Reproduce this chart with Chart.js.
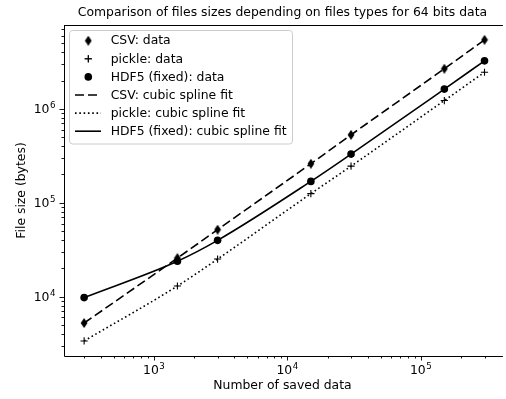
<!DOCTYPE html>
<html>
<head>
<meta charset="utf-8">
<script src="https://cdn.jsdelivr.net/npm/chart.js@4"></script>
<style>
  html, body { margin: 0; padding: 0; background: #fff; }
  canvas { display: block; }
</style>
</head>
<body>
<canvas id="myChart" width="506" height="399"></canvas>
<script>
// number of saved values (x) and file sizes in bytes (y)
const sizes = [300, 1500, 3000, 15000, 30000, 150000, 300000];
const csvBytes = [5230, 25700, 51600, 260000, 528000, 2670000, 5420000];
const pickleBytes = [3370, 12970, 25100, 124800, 245000, 1224000, 2450000];
const hdf5Bytes = [9760, 23800, 39700, 168600, 329000, 1620000, 3240000];

const xMajorTicks = [1e3, 1e4, 1e5];
const yMajorTicks = [1e4, 1e5, 1e6];

const titleText = "Comparison of files sizes depending on files types for 64 bits data";
const xLabel = "Number of saved data";
const yLabel = "File size (bytes)";
const legendLabels = [
  "CSV: data",
  "pickle: data",
  "HDF5 (fixed): data",
  "CSV: cubic spline fit",
  "pickle: cubic spline fit",
  "HDF5 (fixed): cubic spline fit"
];

const FONT = "DejaVu Sans";
const FS = 12.4;

function pts(ys) {
  return sizes.map((x, i) => ({ x: x, y: ys[i] }));
}

// thin diamond marker (matplotlib 'd')
const diamond = document.createElement("canvas");
diamond.width = 8;
diamond.height = 10;
(function () {
  const c = diamond.getContext("2d");
  c.fillStyle = "#000";
  c.beginPath();
  c.moveTo(4, 0);
  c.lineTo(7.4, 5);
  c.lineTo(4, 10);
  c.lineTo(0.6, 5);
  c.closePath();
  c.fill();
})();

function minorTicks(lo, hi) {
  const out = [];
  for (let k = 1; k <= 7; k++) {
    for (let m = 2; m <= 9; m++) {
      const v = m * Math.pow(10, k);
      if (v >= lo && v <= hi) out.push(v);
    }
  }
  return out;
}

function drawPow(ctx, exp, x, y, align) {
  ctx.font = FS + "px " + FONT;
  const wBase = ctx.measureText("10").width;
  ctx.font = (FS * 0.7) + "px " + FONT;
  const wExp = ctx.measureText(String(exp)).width;
  const total = wBase + wExp + 0.5;
  let left = x;
  if (align === "center") left = x - total / 2;
  if (align === "right") left = x - total;
  ctx.textAlign = "left";
  ctx.textBaseline = "alphabetic";
  ctx.font = FS + "px " + FONT;
  ctx.fillText("10", left, y);
  ctx.font = (FS * 0.7) + "px " + FONT;
  ctx.fillText(String(exp), left + wBase + 0.5, y - 5);
}

const framePlugin = {
  id: "frame",
  afterDraw(chart) {
    const ctx = chart.ctx;
    const a = chart.chartArea;
    const xs = chart.scales.x;
    const ys = chart.scales.y;
    ctx.save();
    ctx.fillStyle = "#000";
    ctx.strokeStyle = "#000";

    // spines (right one falls outside the picture)
    ctx.lineWidth = 1;
    ctx.beginPath();
    ctx.moveTo(a.left + 0.5, a.top + 0.5);
    ctx.lineTo(a.right + 2, a.top + 0.5);
    ctx.moveTo(a.left + 0.5, a.top);
    ctx.lineTo(a.left + 0.5, a.bottom + 0.5);
    ctx.lineTo(a.right + 2, a.bottom + 0.5);
    ctx.stroke();

    // ticks
    ctx.lineWidth = 0.9;
    ctx.beginPath();
    xMajorTicks.forEach(v => {
      const px = Math.round(xs.getPixelForValue(v)) + 0.5;
      ctx.moveTo(px, a.bottom);
      ctx.lineTo(px, a.bottom + 4.5);
    });
    minorTicks(xs.min, xs.max).forEach(v => {
      const px = Math.round(xs.getPixelForValue(v)) + 0.5;
      ctx.moveTo(px, a.bottom);
      ctx.lineTo(px, a.bottom + 2.5);
    });
    yMajorTicks.forEach(v => {
      const py = Math.round(ys.getPixelForValue(v)) + 0.5;
      ctx.moveTo(a.left, py);
      ctx.lineTo(a.left - 4.5, py);
    });
    minorTicks(ys.min, ys.max).forEach(v => {
      const py = Math.round(ys.getPixelForValue(v)) + 0.5;
      ctx.moveTo(a.left, py);
      ctx.lineTo(a.left - 2.5, py);
    });
    ctx.stroke();

    // tick labels
    xMajorTicks.forEach(v => {
      drawPow(ctx, Math.round(Math.log10(v)), xs.getPixelForValue(v), a.bottom + 18, "center");
    });
    yMajorTicks.forEach(v => {
      drawPow(ctx, Math.round(Math.log10(v)), a.left - 8.5, ys.getPixelForValue(v) + 4.5, "right");
    });

    // title and axis labels
    ctx.font = FS + "px " + FONT;
    ctx.textAlign = "center";
    ctx.textBaseline = "middle";
    ctx.fillText(titleText, (a.left + a.right) / 2, 13);
    ctx.fillText(xLabel, (a.left + a.right) / 2, 386);
    ctx.translate(22, (a.top + a.bottom) / 2);
    ctx.rotate(-Math.PI / 2);
    ctx.fillText(yLabel, 0, 0);
    ctx.restore();

    // legend
    ctx.save();
    const bx = 69.5, by = 30.5, bw = 223, bh = 113.5, r = 3;
    ctx.beginPath();
    ctx.moveTo(bx + r, by);
    ctx.arcTo(bx + bw, by, bx + bw, by + bh, r);
    ctx.arcTo(bx + bw, by + bh, bx, by + bh, r);
    ctx.arcTo(bx, by + bh, bx, by, r);
    ctx.arcTo(bx, by, bx + bw, by, r);
    ctx.closePath();
    ctx.fillStyle = "rgba(255,255,255,0.8)";
    ctx.fill();
    ctx.strokeStyle = "#cccccc";
    ctx.lineWidth = 1;
    ctx.stroke();

    const ds = chart.data.datasets;
    ctx.fillStyle = "#000";
    ctx.strokeStyle = "#000";
    ctx.font = FS + "px " + FONT;
    ctx.textAlign = "left";
    ctx.textBaseline = "middle";
    legendLabels.forEach((lab, i) => {
      const yy = 40.7 + i * 18.1;
      const d = ds[i];
      if (i < 3) {
        Chart.helpers.drawPoint(ctx, {
          pointStyle: d.pointStyle,
          radius: d.pointRadius,
          borderWidth: d.borderWidth,
          rotation: 0
        }, 88.3, yy);
        if (d.pointStyle === "cross") ctx.stroke();
      } else {
        ctx.setLineDash(d.borderDash || []);
        ctx.lineWidth = d.borderWidth;
        ctx.beginPath();
        ctx.moveTo(75, yy);
        ctx.lineTo(101, yy);
        ctx.stroke();
        ctx.setLineDash([]);
      }
      ctx.fillText(lab, 110.7, yy + 0.5);
    });
    ctx.restore();
  }
};

const ctx = document.getElementById("myChart").getContext("2d");
const myChart = new Chart(ctx, {
  type: "scatter",
  plugins: [framePlugin],
  data: {
    datasets: [
      {
        label: legendLabels[0],
        data: pts(csvBytes),
        showLine: false,
        pointStyle: diamond,
        pointRadius: 5,
        backgroundColor: "#000",
        borderColor: "#000",
        borderWidth: 0
      },
      {
        label: legendLabels[1],
        data: pts(pickleBytes),
        showLine: false,
        pointStyle: "cross",
        pointRadius: 3.6,
        backgroundColor: "#000",
        borderColor: "#000",
        borderWidth: 1.1
      },
      {
        label: legendLabels[2],
        data: pts(hdf5Bytes),
        showLine: false,
        pointStyle: "circle",
        pointRadius: 3.8,
        backgroundColor: "#000",
        borderColor: "#000",
        borderWidth: 0
      },
      {
        label: legendLabels[3],
        data: pts(csvBytes),
        showLine: true,
        pointRadius: 0,
        borderColor: "#000",
        borderWidth: 1.6,
        borderDash: [9, 4],
        cubicInterpolationMode: "monotone",
        fill: false
      },
      {
        label: legendLabels[4],
        data: pts(pickleBytes),
        showLine: true,
        pointRadius: 0,
        borderColor: "#000",
        borderWidth: 1.6,
        borderDash: [1.6, 2.7],
        cubicInterpolationMode: "monotone",
        fill: false
      },
      {
        label: legendLabels[5],
        data: pts(hdf5Bytes),
        showLine: true,
        pointRadius: 0,
        borderColor: "#000",
        borderWidth: 1.6,
        cubicInterpolationMode: "monotone",
        fill: false
      }
    ]
  },
  options: {
    responsive: false,
    animation: false,
    devicePixelRatio: 1,
    layout: {
      padding: { top: 25, left: 0, right: 0, bottom: 0 }
    },
    plugins: {
      legend: { display: false },
      tooltip: { enabled: false },
      title: { display: false }
    },
    scales: {
      x: {
        type: "logarithmic",
        min: 212,
        max: 398000,
        grid: { display: false },
        border: { display: false },
        ticks: { display: false },
        afterFit: scale => { scale.height = 43; }
      },
      y: {
        type: "logarithmic",
        min: 2330,
        max: 7800000,
        grid: { display: false },
        border: { display: false },
        ticks: { display: false },
        afterFit: scale => { scale.width = 64; }
      }
    }
  }
});
</script>
</body>
</html>
